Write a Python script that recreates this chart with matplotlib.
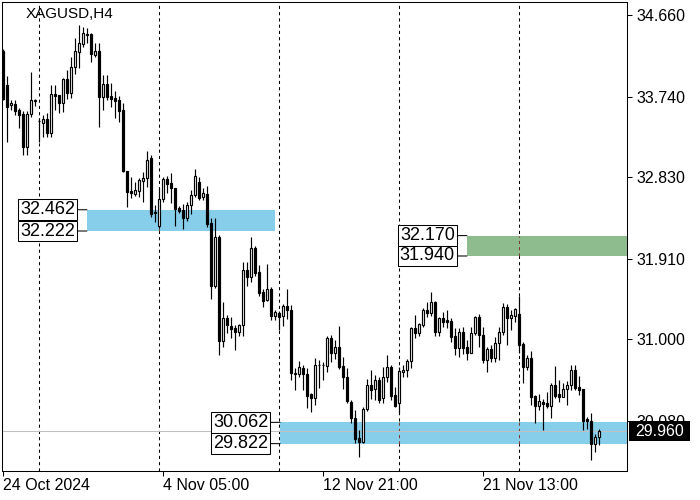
import matplotlib
matplotlib.use("Agg")

import matplotlib.pyplot as plt
import matplotlib.transforms as mtransforms
from matplotlib.patches import Rectangle
import numpy as np

plt.rcParams["font.family"] = ["Liberation Sans", "DejaVu Sans"]

# --- data (one value per candle) ---
opens = [
    34.25, 33.87, 33.64, 33.66, 33.59, 33.54, 33.17, 33.54, 33.69, 33.46,
    33.44, 33.49, 33.33, 33.77, 33.76, 33.67, 33.94, 33.78, 34.07, 34.24,
    34.33, 34.45, 34.45, 34.21, 34.25, 33.73, 33.88, 33.75, 33.72, 33.70,
    33.59, 32.90, 32.67, 32.64, 32.67, 32.79, 32.82, 33.05, 32.44, 32.28,
    32.58, 32.81, 32.76, 32.71, 32.48, 32.46, 32.37, 32.51, 32.63, 32.77,
    32.61, 32.64, 32.31, 31.60, 32.15, 30.98, 31.24, 31.15, 31.13, 31.08,
    31.16, 31.78, 31.70, 32.03, 31.76, 31.53, 31.44, 31.57, 31.26, 31.30,
    31.26, 31.38, 31.33, 30.61, 30.61, 30.68, 30.61, 30.38, 30.34, 30.71,
    30.71, 30.70, 31.01, 30.85, 30.91, 30.70, 30.57, 30.29, 30.11, 29.89,
    29.84, 30.21, 30.48, 30.44, 30.54, 30.34, 30.57, 30.69, 30.37, 30.28,
    30.63, 30.65, 30.75, 31.13, 31.07, 31.16, 31.33, 31.30, 31.42, 31.08,
    31.24, 31.22, 31.21, 31.04, 30.90, 31.08, 30.91, 30.85, 31.07, 31.25,
    31.05, 30.77, 30.89, 30.79, 30.96, 31.08, 31.36, 31.24, 31.26, 31.28,
    30.95, 30.69, 30.79, 30.36, 30.25, 30.29, 30.28, 30.25, 30.48, 30.38,
    30.35, 30.44, 30.48, 30.65, 30.46, 30.44, 30.10, 30.08, 29.82, 29.90,
]
highs = [
    34.28, 33.97, 33.70, 33.70, 33.61, 33.58, 33.58, 34.02, 33.71, 33.50,
    33.53, 33.55, 33.87, 33.87, 33.76, 33.95, 34.04, 34.19, 34.40, 34.55,
    34.52, 34.51, 34.46, 34.34, 34.34, 33.98, 33.98, 33.89, 33.80, 33.75,
    33.67, 32.90, 32.83, 32.77, 32.82, 32.89, 33.12, 33.08, 32.51, 32.71,
    32.83, 32.84, 32.88, 32.71, 32.50, 32.53, 32.55, 32.68, 32.92, 32.83,
    32.71, 32.73, 32.37, 32.37, 32.18, 31.42, 31.27, 31.25, 31.16, 31.17,
    31.87, 31.87, 32.15, 32.05, 31.84, 31.57, 31.85, 31.59, 31.33, 31.32,
    31.40, 31.57, 31.39, 30.68, 30.75, 30.71, 30.68, 30.39, 30.79, 30.77,
    30.74, 31.04, 31.05, 30.99, 31.15, 30.80, 30.68, 30.31, 30.20, 29.98,
    30.24, 30.55, 30.65, 30.60, 30.57, 30.69, 30.82, 30.71, 30.46, 30.69,
    30.71, 30.78, 31.14, 31.27, 31.18, 31.35, 31.42, 31.53, 31.43, 31.25,
    31.31, 31.33, 31.24, 31.13, 31.13, 31.14, 30.99, 31.14, 31.26, 31.28,
    31.14, 30.91, 30.94, 31.03, 31.14, 31.41, 31.40, 31.33, 31.35, 31.49,
    30.97, 30.82, 30.87, 30.37, 30.38, 30.33, 30.40, 30.51, 30.70, 30.54,
    30.51, 30.53, 30.71, 30.71, 30.59, 30.44, 30.12, 30.17, 29.93, 29.99,
]
lows = [
    33.70, 33.23, 33.59, 33.53, 33.38, 33.08, 33.08, 33.51, 33.63, 33.23,
    33.28, 33.28, 33.28, 33.59, 33.55, 33.56, 33.71, 33.72, 33.99, 34.06,
    34.30, 34.34, 34.13, 34.19, 33.40, 33.59, 33.70, 33.62, 33.50, 33.45,
    32.89, 32.49, 32.59, 32.62, 32.61, 32.55, 32.72, 32.38, 32.32, 32.26,
    32.55, 32.65, 32.54, 32.28, 32.43, 32.24, 32.33, 32.41, 32.61, 32.57,
    32.57, 32.27, 31.45, 31.58, 30.82, 30.91, 31.07, 31.01, 30.88, 31.04,
    31.04, 31.60, 31.65, 31.71, 31.49, 31.36, 31.43, 31.22, 31.22, 31.10,
    31.15, 31.23, 30.54, 30.43, 30.57, 30.43, 30.22, 30.18, 30.26, 30.45,
    30.54, 30.63, 30.74, 30.78, 30.66, 30.44, 30.28, 30.05, 29.83, 29.67,
    29.83, 30.19, 30.33, 30.31, 30.28, 30.28, 30.52, 30.31, 30.24, 30.17,
    30.57, 30.57, 30.68, 31.01, 31.04, 31.14, 31.25, 31.26, 31.04, 31.04,
    31.14, 31.13, 30.97, 30.82, 30.80, 30.83, 30.77, 30.84, 31.05, 30.91,
    30.73, 30.63, 30.74, 30.74, 30.77, 31.05, 30.94, 31.10, 31.19, 30.85,
    30.51, 30.65, 30.26, 30.05, 30.20, 29.98, 30.22, 30.11, 30.34, 30.29,
    30.35, 30.26, 30.43, 30.43, 30.37, 29.98, 29.99, 29.64, 29.73, 29.81,
]
closes = [
    33.71, 33.62, 33.67, 33.58, 33.53, 33.17, 33.54, 33.70, 33.70, 33.46,
    33.49, 33.33, 33.77, 33.75, 33.67, 33.94, 33.78, 34.07, 34.25, 34.34,
    34.46, 34.43, 34.22, 34.25, 33.73, 33.88, 33.73, 33.71, 33.69, 33.58,
    32.90, 32.66, 32.65, 32.68, 32.80, 32.82, 33.02, 32.41, 32.43, 32.58,
    32.81, 32.75, 32.71, 32.47, 32.45, 32.37, 32.51, 32.63, 32.84, 32.59,
    32.65, 32.30, 31.60, 32.15, 30.98, 31.24, 31.16, 31.12, 31.08, 31.16,
    31.78, 31.70, 32.03, 31.75, 31.52, 31.43, 31.57, 31.26, 31.31, 31.25,
    31.38, 31.33, 30.62, 30.62, 30.69, 30.61, 30.36, 30.34, 30.71, 30.71,
    30.71, 31.01, 30.85, 30.91, 30.69, 30.57, 30.30, 30.11, 29.87, 29.84,
    30.21, 30.48, 30.43, 30.54, 30.31, 30.57, 30.69, 30.36, 30.25, 30.64,
    30.65, 30.75, 31.13, 31.07, 31.17, 31.33, 31.30, 31.42, 31.08, 31.24,
    31.19, 31.19, 31.03, 30.90, 31.08, 30.90, 30.85, 31.07, 31.25, 31.05,
    30.77, 30.89, 30.79, 30.96, 31.08, 31.36, 31.24, 31.27, 31.34, 30.94,
    30.69, 30.79, 30.35, 30.25, 30.30, 30.27, 30.25, 30.48, 30.36, 30.35,
    30.44, 30.48, 30.65, 30.45, 30.43, 30.08, 30.08, 29.82, 29.90, 29.96,
]

price_ticks = [34.660, 33.740, 32.830, 31.910, 31.000, 30.080]
date_tick_bars = [0, 40, 80, 120]
date_labels = ["24 Oct 2024", "4 Nov 05:00", "12 Nov 21:00", "21 Nov 13:00"]
grid_bars = [9, 39, 69, 99, 129]

# supply / demand zones: (top, bottom, first bar, last bar or None = to the edge)
zone_tops = [32.462, 32.170, 30.062]
zone_bottoms = [32.222, 31.940, 29.822]
zone_starts = [20.9, 115.9, 69.2]
zone_ends = [67.9, None, None]
zone_colors = ["#87ceeb", "#8fbc8f", "#87ceeb"]

symbol = "XAGUSD,H4"
last_price = closes[-1]

# --- figure ---
fig = plt.figure(figsize=(7, 5), dpi=100)
ax = fig.add_axes([2 / 700, 29 / 500, 625 / 700, 469 / 500])
ax.set_xlim(-0.325, 155.925)
ax.set_ylim(29.513, 34.807)
x_right = ax.get_xlim()[1]

for gx in grid_bars:
    ax.axvline(gx, color="black", lw=0.75, ls=(0, (3, 3)), zorder=0.5)

for top, bot, x0, x1, col in zip(zone_tops, zone_bottoms, zone_starts, zone_ends, zone_colors):
    x1 = x_right if x1 is None else x1
    ax.add_patch(Rectangle((x0, bot), x1 - x0, top - bot, facecolor=col,
                           edgecolor="none", zorder=1))
    # grid shows through the zones in a darker tint, like the terminal draws it
    for gx in grid_bars:
        if x0 < gx < x1:
            ax.plot([gx, gx], [bot, top], color="#7b3b2b", lw=0.75,
                    ls=(0, (3, 3)), zorder=1.5)
    for level, txt in ((top, f"{top:.3f}"), (bot, f"{bot:.3f}")):
        ax.annotate(txt, xy=(x0, level), xytext=(-12, 0), textcoords="offset pixels",
                    ha="right", va="center", fontsize=13, zorder=6,
                    bbox=dict(boxstyle="square,pad=0.1", fc="white", ec="black", lw=0.75),
                    arrowprops=dict(arrowstyle="-", color="black", lw=0.75,
                                    shrinkA=0, shrinkB=0, relpos=(1, 0.5)))

ax.axhline(last_price, color="#c0c0c0", lw=0.75, zorder=2)

# --- candles ---
o = np.array(opens)
h = np.array(highs)
l = np.array(lows)
c = np.array(closes)
x = np.arange(len(o))
up = c >= o
ax.vlines(x, l, h, color="black", lw=0.85, zorder=3)
body = np.maximum(np.abs(c - o), 0.004)
ax.bar(x, body, bottom=np.minimum(o, c), width=0.55,
       color=np.where(up, "white", "black"), edgecolor="black", lw=0.85, zorder=4)

# --- axes styling ---
for sp in ax.spines.values():
    sp.set_color("black")
    sp.set_linewidth(0.75)

ax.yaxis.tick_right()
ax.set_yticks(price_ticks)
ax.set_yticklabels([f"{p:.3f}" for p in price_ticks])
ax.set_xticks(date_tick_bars)
ax.set_xticklabels(date_labels)
for lbl in ax.get_xticklabels():
    lbl.set_ha("left")
ax.tick_params(axis="y", direction="out", length=3.5, width=0.75, pad=3, labelsize=11.5)
ax.tick_params(axis="x", direction="out", length=3.5, width=0.75, pad=1.5, labelsize=11.5)

ax.text(24 / 625, 1 - 5 / 469, symbol, transform=ax.transAxes, ha="left", va="top",
        fontsize=11, zorder=6)

# current price tag on the price scale (covers the lower part of 30.080, as in the terminal)
blend = mtransforms.blended_transform_factory(fig.transFigure, ax.transData)
half = 10 * (34.807 - 29.513) / 469
ax.add_patch(Rectangle((629 / 700, last_price - half), 61 / 700, 2 * half, transform=blend,
                       facecolor="black", edgecolor="none", clip_on=False, zorder=7))
ax.text(635 / 700, last_price, f"{last_price:.3f}", transform=blend, color="white",
        ha="left", va="center", fontsize=11.5, zorder=8, clip_on=False)

fig.savefig("out.png", dpi=100)
